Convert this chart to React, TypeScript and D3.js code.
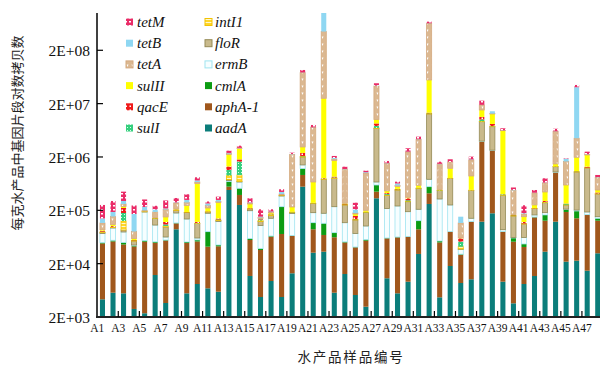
import React from "react";
import * as d3 from "d3";

const samples = ["A1","A2","A3","A4","A5","A6","A7","A8","A9","A10","A11","A12","A13","A14","A15","A16","A17","A18","A19","A20","A21","A22","A23","A24","A25","A26","A27","A28","A29","A30","A31","A32","A33","A34","A35","A36","A37","A38","A39","A40","A41","A42","A43","A44","A45","A46","A47","A48"];

// stacking order bottom -> top
const genes = ["aadA","aphA-1","cmlA","ermB","floR","intI1","sulI","qacE","sulII","tetA","tetB","tetM"];

const aadA = [4290,5710,5560,2830,2350,12260,3660,88200,5560,8310,6900,5960,481000,252000,11750,4740,9460,4740,13200,555000,32100,33500,5710,12800,5170,3120,336400,10640,5560,9180,30400,263000,4680,18080,8680,10190,122400,176000,9180,3610,8310,11750,33500,122400,21780,22740,14760,31300];
const aphA1 = [43500,46400,40200,39100,49250,36900,50740,26100,43240,43790,34700,36340,74000,136000,43850,31360,54640,67260,52800,365000,56100,35500,56800,37100,35430,50780,111200,49160,56940,54920,57800,154400,45220,61500,20420,112200,3750000,2450000,70420,48000,32790,136350,94400,902600,164420,119160,149240,96600];
const cmlA = [2100,2800,4200,1800,2800,2200,1200,1700,2200,3500,38000,2500,140000,129800,3700,2400,1900,162000,1500,298000,29100,45300,13700,1500,500,2900,149400,800,740,600,39700,137600,3300,600,1000,1200,50000,30000,600,9000,5700,1900,36100,10000,21200,52400,2000,14000];
const ermB = [23700,38400,28600,1000,131800,54600,7640,62200,86600,5000,96400,78800,30000,161700,137500,65400,75900,137400,107100,202000,63400,61700,157800,65900,32500,44900,82500,155900,178000,123900,81300,209000,273200,171800,7100,18300,50000,30000,6500,1000,15100,14000,16700,15000,3000,8000,20200,10000];
const floR = [3200,2100,7000,8400,1500,34600,34160,21800,44700,52700,10200,5400,32000,15500,15200,19700,18100,5000,7700,580000,88000,588000,556800,134700,58400,80600,6220000,166300,239800,101800,304400,12050000,144600,538800,500,329100,5210000,4710000,296100,95100,49000,52500,97300,266000,41600,845000,1059000,252900];
const intI1 = [1800,2000,40700,1200,1500,1500,4300,3000,1500,1500,1500,3000,143000,225000,3000,5400,7200,3000,2000,50000,3000,15000,20000,4000,2900,2000,100000,5200,10000,5200,8000,200000,5000,5000,3900,5000,170000,100000,3000,3000,1500,2000,5000,10000,3000,10000,10000,5000];
const sulI = [1100,900,52000,500,1000,1000,6800,2000,1000,1200,1000,2900,240000,713000,2000,5900,2200,3000,1500,40000,2000,10000,15000,3000,1600,1500,620000,15000,5000,12900,5000,200000,5000,5000,10000,3000,750000,100000,10000,2000,1000,1000,3000,10000,10000,15000,10000,5000];
const qacE = [3500,3400,43000,700,1500,1500,12400,3000,1500,5400,2000,5700,187000,163000,3000,2700,1200,3000,2000,288000,3000,15000,29000,4000,20200,2000,880000,18000,10000,27900,5000,300000,5000,5000,8200,5000,1150000,720000,5000,3000,7500,2000,13200,5000,3000,10000,51000,16200];
const sulII = [3700,6800,14800,3700,2500,1500,29100,5000,60100,515600,30500,140200,901000,1092000,43000,3000,7600,5000,43200,703000,402800,24400000,865000,8000,13900,12200,1600000,41000,54000,14600,58000,42100000,8000,422000,800,397000,3950000,4490000,5830000,3000,31000,30500,142400,138000,329000,893000,864000,50000];
const tetA = [29000,44700,27000,20900,5800,40100,57400,61600,34400,42500,25200,12200,98000,40000,11600,6200,8000,14400,2017000,73100000,6470000,423000000,120000,906000,7600,800000,32800000,1050000,24000,2133000,3670000,582000000,972000,384000,55300,879000,3680000,200000,50000,307000,18700,170900,209600,4537000,1051000,2515000,50000,344800];
const tetB = [24700,33000,36200,90400,31000,21200,9100,6200,32200,45500,22300,20000,54000,40000,6200,5100,3900,36800,32000,700000,50000,650000000,80000,13000,29200,36000,700000,20000,53000,30000,50000,5000000,20000,10000,36000,40000,100000,1380000,50000,10000,5400,5000,10000,50000,202000,36070000,30000,10000];
const tetM = [111400,113000,148400,75800,88400,35800,89300,59800,86800,107300,24300,47600,246000,290000,55600,57300,19100,54200,130000,8600000,760000,20000000,170000,126000,70600,71000,4600000,152000,51800,398000,500000,46000000,147000,190000,0,230000,3760000,0,570000,51000,72600,53100,136500,700000,40000,4200000,256000,84200];

const series: Record<string, number[]> = {
  "aadA": aadA, "aphA-1": aphA1, "cmlA": cmlA, "ermB": ermB, "floR": floR, "intI1": intI1,
  "sulI": sulI, "qacE": qacE, "sulII": sulII, "tetA": tetA, "tetB": tetB, "tetM": tetM,
};

const yTickValues = [2e3, 2e4, 2e5, 2e6, 2e7, 2e8];
const yTickLabels = ["2E+03", "2E+04", "2E+05", "2E+06", "2E+07", "2E+08"];

const legendCol1 = ["tetM", "tetB", "tetA", "sulII", "qacE", "sulI"];
const legendCol2 = ["intI1", "floR", "ermB", "cmlA", "aphA-1", "aadA"];

const fills: Record<string, string> = {
  "aadA": "#0b7d7a",
  "aphA-1": "#a0571c",
  "cmlA": "#0c9c12",
  "ermB": "#f6feff",
  "floR": "#c9ba8c",
  "intI1": "url(#p-intI1)",
  "sulI": "url(#p-sulI)",
  "qacE": "url(#p-qacE)",
  "sulII": "#ffff00",
  "tetA": "url(#p-tetA)",
  "tetB": "#8fd7f2",
  "tetM": "url(#p-tetM)",
};
const strokes: Record<string, string> = {
  "ermB": "#9fe4f0",
  "floR": "#958a56",
  "intI1": "#f2c200",
  "tetA": "#d4a97e",
};

const X0 = 97.2, X1 = 603, YT = 13, YB = 317;
const SERIF = "Liberation Serif, Tinos, Times New Roman, DejaVu Serif, serif";
const CJK = "Noto Sans CJK SC, Noto Sans CJK JP, sans-serif";

export default function App() {
  const x = d3.scaleBand<string>().domain(samples).range([X0, X1]).paddingInner(0.52).paddingOuter(0.26);
  const step = x.step();
  const bw = x.bandwidth();
  const y = d3.scaleLog().domain([2000, 1e9]).range([YB, YT]).clamp(true);

  const rows = samples.map((s, i) => {
    const r: any = { sample: s };
    genes.forEach(g => { r[g] = series[g][i]; });
    return r;
  });
  const stacked = d3.stack<any>().keys(genes)(rows);

  const catLeft = (s: string) => (x(s) as number) + bw / 2 - step / 2;
  const oddSamples = samples.filter((_, i) => i % 2 === 0);

  const legendMarker = (g: string, mx: number, my: number) => (
    <rect x={mx} y={my} width={7} height={7} fill={fills[g]}
      stroke={strokes[g] || "none"} strokeWidth={strokes[g] ? 1 : 0} />
  );

  return (
    <svg width={600} height={367} style={{ display: "block", position: "absolute", left: 0, top: 0, background: "#fff" }}>
      <defs>
        <clipPath id="plotclip"><rect x={97} y={YT} width={510} height={YB - YT} /></clipPath>
        <pattern id="p-tetM" width={4} height={4} patternUnits="userSpaceOnUse">
          <rect width={4} height={4} fill="#ea2c68" />
          <rect x={1} y={1} width={2} height={1.5} fill="#ffffff" />
        </pattern>
        <pattern id="p-qacE" width={4} height={4} patternUnits="userSpaceOnUse">
          <rect width={4} height={4} fill="#f01a1a" />
          <rect x={1.5} y={1.5} width={1.5} height={1.5} fill="#ffffff" />
        </pattern>
        <pattern id="p-sulI" width={3} height={3} patternUnits="userSpaceOnUse">
          <rect width={3} height={3} fill="#35cf7e" />
          <rect x={1} y={1} width={1} height={1} fill="#d8ffe8" />
        </pattern>
        <pattern id="p-intI1" width={4} height={3} patternUnits="userSpaceOnUse">
          <rect width={4} height={3} fill="#ffd62a" />
          <rect x={0} y={1} width={4} height={1} fill="#fff8d0" />
        </pattern>
        <pattern id="p-tetA" width={5} height={7} patternUnits="userSpaceOnUse">
          <rect width={5} height={7} fill="#dbb891" />
          <path d="M1.5,1.5 L3.5,1.5 L2.5,4 Z" fill="#ffffff" />
        </pattern>
      </defs>

      <g clipPath="url(#plotclip)">
        {stacked.map(layer => (
          <g key={layer.key}>
            {layer.map((d, i) => {
              const lo = Math.max(d[0], 2000);
              const hi = d[1];
              if (hi <= lo) return null;
              const yTop = y(hi);
              const yBot = y(lo);
              const h = yBot - yTop;
              if (h <= 0) return null;
              const sw = strokes[layer.key] ? 0.8 : 0;
              return (
                <rect key={i} x={x(samples[i])} y={yTop} width={bw} height={h}
                  fill={fills[layer.key]} stroke={sw ? strokes[layer.key] : "none"} strokeWidth={sw} />
              );
            })}
          </g>
        ))}
      </g>

      {/* y axis */}
      <line x1={97} x2={97} y1={YT} y2={YB} stroke="#000" strokeWidth={1.5} />
      {yTickValues.map((v, i) => (
        <g key={v}>
          <line x1={97} x2={103} y1={y(v)} y2={y(v)} stroke="#000" strokeWidth={1.2} />
          <text x={90} y={y(v) + 6} textAnchor="end" style={{ fontFamily: SERIF, fontSize: "15.5px" }} fill="#111">{yTickLabels[i]}</text>
        </g>
      ))}

      {/* x axis */}
      <line x1={96} x2={600} y1={YB} y2={YB} stroke="#222" strokeWidth={2} />
      {oddSamples.slice(1).map(s => (
        <line key={s} x1={catLeft(s)} x2={catLeft(s)} y1={YB} y2={YB - 6} stroke="#000" strokeWidth={1.2} />
      ))}
      {oddSamples.map(s => (
        <text key={s} x={catLeft(s)} y={331.5} textAnchor="middle" style={{ fontFamily: SERIF, fontSize: "11.5px" }} fill="#111">{s}</text>
      ))}

      {/* axis titles */}
      <text x={351} y={362} textAnchor="middle"
        style={{ fontFamily: CJK, fontSize: "13.5px", letterSpacing: "1.8px" }} fill="#222">水产品样品编号</text>
      <text transform="translate(22,133) rotate(-90)" textAnchor="middle"
        style={{ fontFamily: CJK, fontSize: "13px" }} fill="#222">每克水产品中基因片段对数拷贝数</text>

      {/* legend */}
      {legendCol1.map((g, i) => {
        const cy = 22 + i * 21.2;
        return (
          <g key={g}>
            {legendMarker(g, 126, cy - 3.5)}
            <text x={137} y={cy + 5} style={{ fontFamily: SERIF, fontStyle: "italic", fontSize: "15px" }} fill="#111">{g}</text>
          </g>
        );
      })}
      {legendCol2.map((g, i) => {
        const cy = 22 + i * 21.2;
        return (
          <g key={g}>
            {legendMarker(g, 205, cy - 3.5)}
            <text x={215} y={cy + 5} style={{ fontFamily: SERIF, fontStyle: "italic", fontSize: "15px" }} fill="#111">{g}</text>
          </g>
        );
      })}
    </svg>
  );
}
